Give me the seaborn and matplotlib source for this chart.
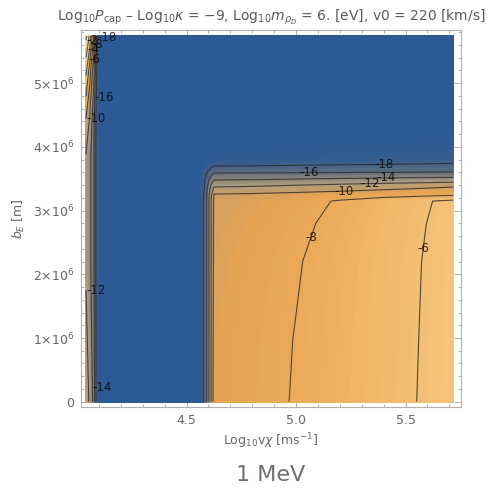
import numpy as np
import matplotlib
matplotlib.use("Agg")
import matplotlib.pyplot as plt
from matplotlib.colors import LinearSegmentedColormap, Normalize
from matplotlib.ticker import MultipleLocator, FuncFormatter
import seaborn as sns

# ----------------------------
# Grid
# columns: Log10 vχ [m/s]
log_v = [4.041, 4.058, 4.075, 4.09, 4.098, 4.562, 4.577, 4.592, 4.612, 4.625,
         4.80, 5.00, 5.20, 5.40, 5.60, 5.717]
# rows: b_E [m]
b_e = [0.0, 1.0e6, 2.2e6, 2.8e6, 3.15e6, 3.26e6, 3.37e6, 3.48e6, 3.59e6,
       3.70e6, 3.80e6, 4.5e6, 5.2e6, 5.74e6]

# Log10 P_cap - Log10 kappa, one list per b_E row
p_b0 = [-10.5, -12.5, -14.5, -19, -22, -22, -18, -16, -12, -9.18, -8.58, -7.89, -7.20, -6.52, -5.83, -5.43]
p_b1 = [-11.5, -13, -15, -19, -22, -22, -18, -16, -12, -9.25, -8.64, -7.95, -7.25, -6.56, -5.86, -5.45]
p_b2 = [-12.3, -13.5, -15.5, -19, -22, -22, -18, -16, -12, -9.49, -8.85, -8.11, -7.37, -6.64, -5.90, -5.47]
p_b3 = [-12.3, -13.5, -15.5, -19, -22, -22, -18, -16, -12, -9.6, -9.15, -8.36, -7.56, -6.77, -5.98, -5.52]
p_b4 = [-12.3, -13.5, -15.5, -19, -22, -22, -18, -16, -12, -9.7, -9.4, -8.7, -7.82, -6.9, -6.1, -5.6]
p_b5 = [-12.3, -13.5, -15.5, -19, -22, -22, -18.3, -16, -12.5, -10, -9.86, -9.59, -9.31, -9.03, -8.76, -8.6]
p_b6 = [-12.3, -13.5, -15.5, -19, -22, -22, -18.6, -16.5, -13.5, -12, -11.8, -11.41, -11.02, -10.62, -10.23, -10.0]
p_b7 = [-12.3, -13.5, -15.5, -19, -22, -22, -19, -17, -15, -14, -13.89, -13.68, -13.46, -13.24, -13.03, -12.9]
p_b8 = [-12.3, -13.5, -15.5, -19, -22, -22, -19.8, -18, -16.8, -16, -15.98, -15.93, -15.88, -15.83, -15.78, -15.75]
p_b9 = [-12.3, -13.5, -15.5, -19, -22, -22, -21, -19.5, -18.6, -18, -17.93, -17.8, -17.67, -17.54, -17.41, -17.33]
p_b10 = [-12.3, -13.5, -15.5, -19, -22, -22, -22, -21, -20.5, -20, -19.9, -19.7, -19.5, -19.3, -19.1, -19.0]
p_b11 = [-9.8, -12, -15, -19, -22, -22, -22, -22, -22, -22, -22, -22, -22, -22, -22, -22]
p_b12 = [-5.5, -9, -13, -18, -22, -22, -22, -22, -22, -22, -22, -22, -22, -22, -22, -22]
p_b13 = [-1.5, -4.5, -10, -17, -22, -22, -22, -22, -22, -22, -22, -22, -22, -22, -22, -22]

# where each contour label sits (near which point)
label_spots = {
    -18: [(5.40, 3.75e6), (4.09, 5.71e6)],
    -16: [(5.06, 3.61e6), (4.09, 4.78e6)],
    -14: [(5.41, 3.51e6), (4.08, 0.23e6)],
    -12: [(5.34, 3.42e6), (4.08, 1.82e6)],
    -10: [(5.22, 3.31e6), (4.08, 4.22e6)],
    -8: [(5.06, 2.59e6), (4.08, 5.61e6)],
    -6: [(5.58, 2.40e6), (4.08, 5.35e6)],
    -4: [(4.07, 5.52e6)],
    -2: [(4.06, 5.56e6)],
}

# colour scale (value -> colour)
scale_values = [-22, -20, -18, -16, -14, -12, -10, -9, -8, -7, -6, -5, -2]
scale_colors = ['#2c5a94', '#2f5b92', '#40608a', '#5f6b80', '#86837a', '#a99d82',
                '#c79d66', '#e6a452', '#eaaa5a', '#efb466', '#f3be73', '#f6c880',
                '#f9dca8']

# ----------------------------
sns.set_theme(style="ticks")
plt.rcParams['font.family'] = ['DejaVu Sans']
plt.rcParams['mathtext.fontset'] = 'dejavusans'
plt.rcParams['contour.negative_linestyle'] = 'solid'

grid = np.array([p_b0, p_b1, p_b2, p_b3, p_b4, p_b5, p_b6, p_b7, p_b8,
                 p_b9, p_b10, p_b11, p_b12, p_b13])
X, Y = np.meshgrid(log_v, b_e)

vmin, vmax = scale_values[0], scale_values[-1]
cmap = LinearSegmentedColormap.from_list(
    "pcap", [((v - vmin) / (vmax - vmin), c) for v, c in zip(scale_values, scale_colors)])
norm = Normalize(vmin=vmin, vmax=vmax)

fig = plt.figure(figsize=(4.89, 4.95), dpi=100)
ax = fig.add_axes([81 / 489, 88 / 495, 380 / 489, 377 / 495])

shade = ax.contourf(X, Y, grid, levels=np.linspace(-22.5, -1.0, 90), cmap=cmap,
                    norm=norm, extend='both')
shade.set_edgecolor('face')
shade.set_linewidth(0.6)

# one contour set per level, so each label lands on its own line
for lev, spots in label_spots.items():
    line = ax.contour(X, Y, grid, levels=[lev], colors='#2a2a2a',
                      linewidths=0.8, alpha=0.8, linestyles='solid')
    if sum(len(s) for s in line.allsegs[0]) < 2:
        continue
    try:
        texts = ax.clabel(line, manual=spots, inline=False,
                          fmt=lambda v: f"{v:.0f}", fontsize=8.5, colors='black')
        for t in texts:
            t.set_rotation(0)
            # labels in the thin strip at the left start at their line
            if t.get_position()[0] < 4.2:
                t.set_horizontalalignment('left')
    except (IndexError, TypeError, ValueError):
        pass

# axes look (Mathematica style frame)
ax.set_xlim(4.018, 5.753)
ax.set_ylim(-0.083e6, 5.835e6)
ax.xaxis.set_major_locator(MultipleLocator(0.5))
ax.xaxis.set_minor_locator(MultipleLocator(0.1))
ax.yaxis.set_major_locator(MultipleLocator(1e6))
ax.yaxis.set_minor_locator(MultipleLocator(0.2e6))
ax.xaxis.set_major_formatter(FuncFormatter(lambda v, p: f"{v:.1f}"))
ax.yaxis.set_major_formatter(FuncFormatter(
    lambda v, p: "0" if abs(v) < 1 else f"{v / 1e6:.0f}×10$^{{6}}$"))

grey = '#b0b0b0'
for s in ax.spines.values():
    s.set_color(grey)
    s.set_linewidth(0.8)
ax.tick_params(which='both', direction='in', top=True, right=True, color=grey,
               labelcolor='#666666', labelsize=9, width=0.7)
ax.tick_params(which='major', length=5, pad=5)
ax.tick_params(which='minor', length=2.5)

ax.set_xlabel(r"Log$_{10}$v$\chi$ [ms$^{-1}$]", color='#666666', fontsize=9, labelpad=3)
ax.set_ylabel(r"$b_E$ [m]", color='#666666', fontsize=9, labelpad=4)
ax.set_title(r"Log$_{10}$$P_{\mathrm{cap}}$ – Log$_{10}$$\kappa$ = −9, "
             r"Log$_{10}$$m_{\rho_D}$ = 6. [eV], v0 = 220 [km/s]",
             color='#5a5a5a', fontsize=10, pad=7)

fig.text(271 / 489, 20 / 495, "1 MeV", ha='center', va='center',
         color='#707070', fontsize=16)

fig.savefig("out.png", dpi=100)
